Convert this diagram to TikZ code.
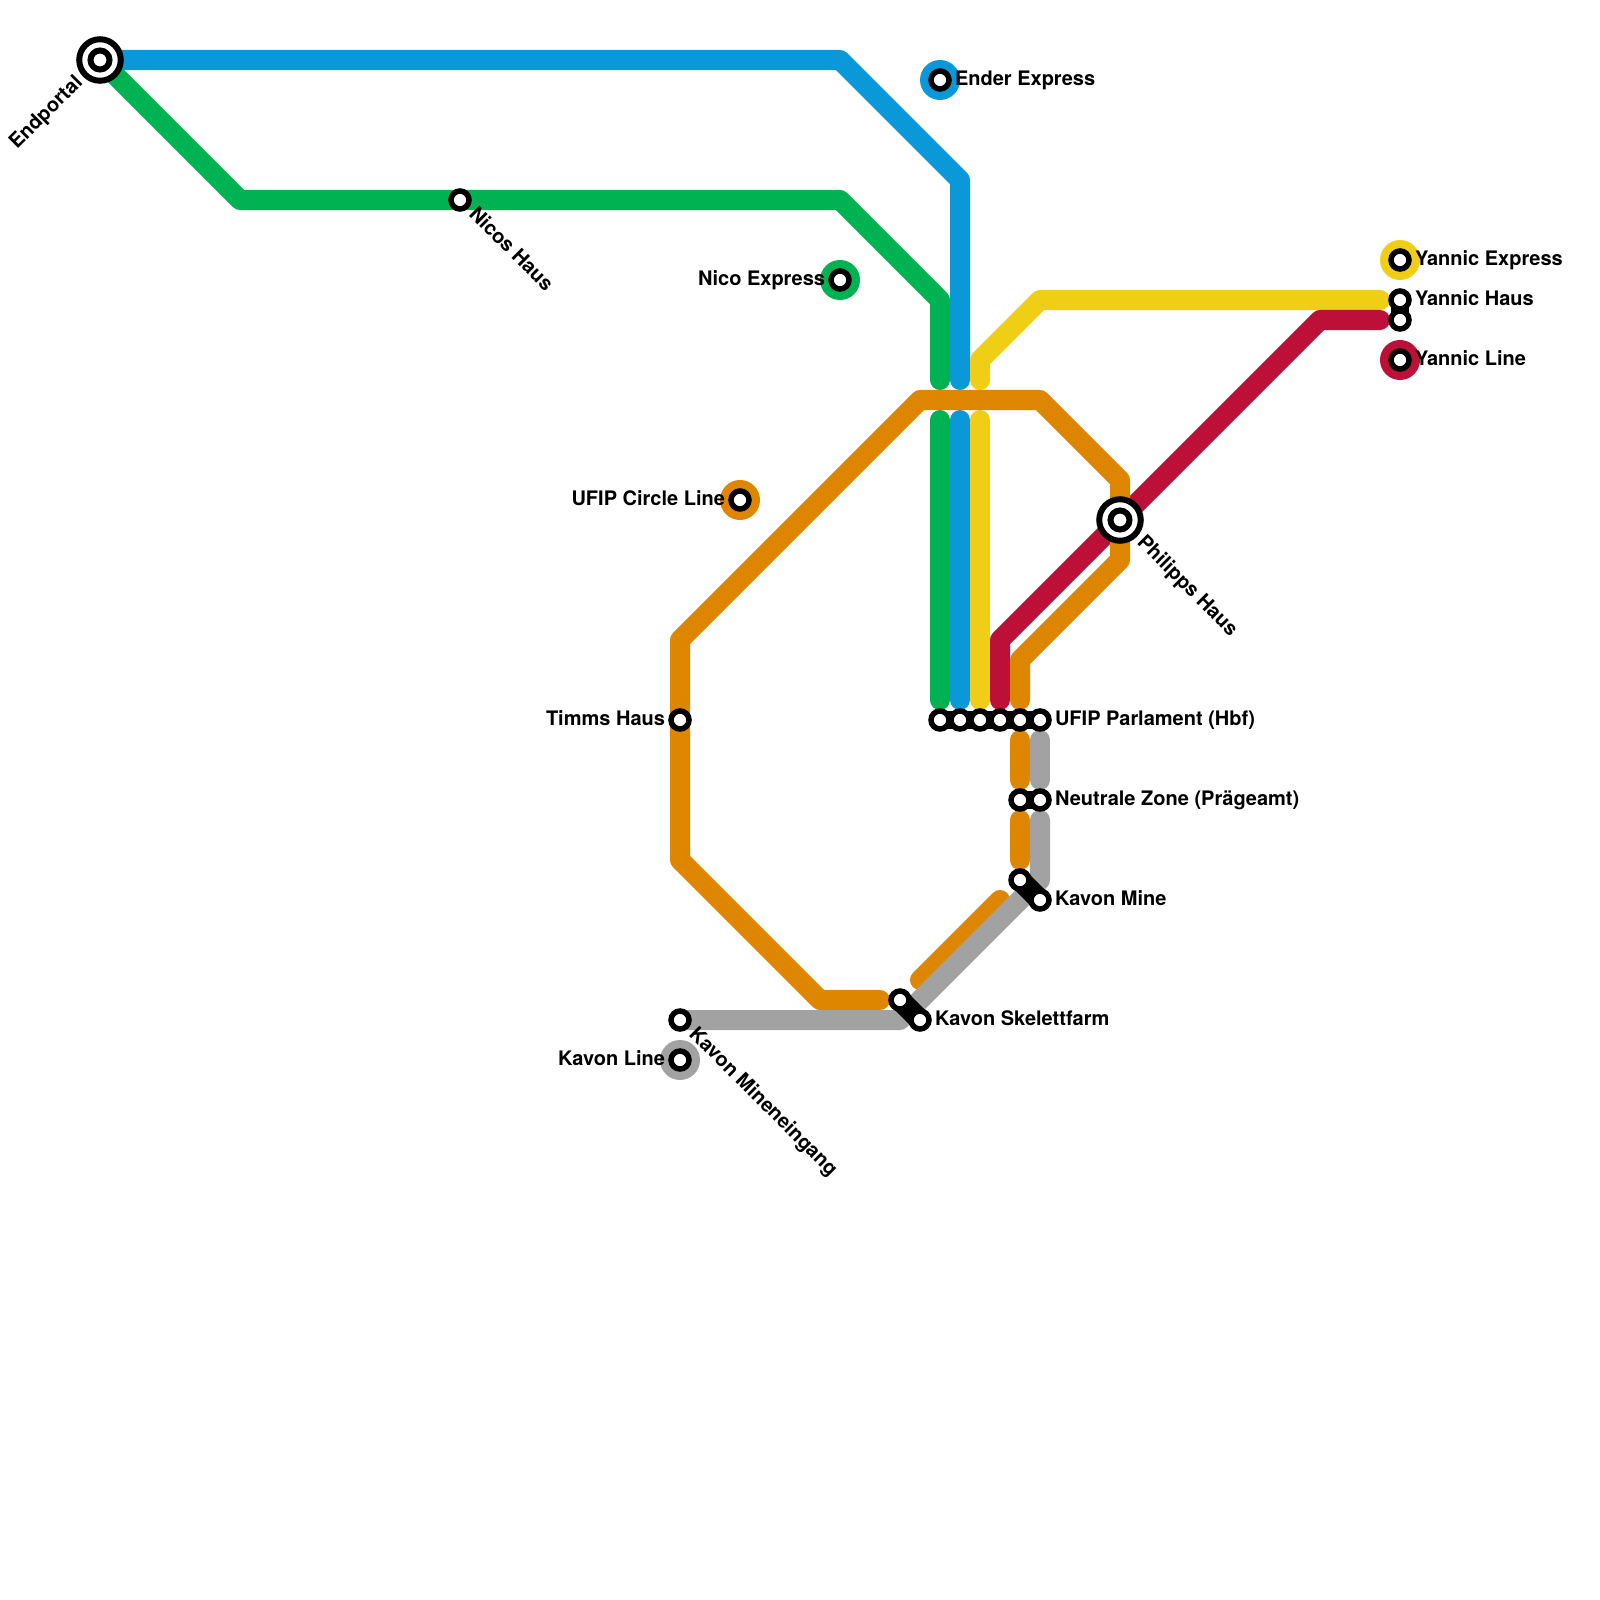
\documentclass[tikz,border=0pt]{standalone}
\usepackage{fontspec}
\setmainfont{TeX Gyre Heros}
\usetikzlibrary{positioning,backgrounds}
\definecolor{metroblue}{RGB}{11,152,216}
\definecolor{metrogreen}{RGB}{0,178,81}
\definecolor{metroorange}{RGB}{222,134,0}
\definecolor{metroyellow}{RGB}{240,206,21}
\definecolor{metrored}{RGB}{189,16,56}
\definecolor{metrogray}{RGB}{162,162,162}

\begin{document}
\begin{tikzpicture}[
    x=0.01cm, y=-0.01cm,
    node distance=0.06cm,
    every node/.style={font=\fontsize{5.69}{7}\selectfont\bfseries, inner sep=0pt, outer sep=0pt},
    tube/.style={line width=0.2cm, line cap=round, line join=round},
    link/.style={line width=0.175cm, draw=black},
    slantlink/.style={line width=0.215cm, draw=black},
    halt/.style={circle, draw=black, fill=white, line width=0.055cm, minimum size=0.18cm},
    terminus/.style={circle, draw=black, fill=white, line width=0.06cm, minimum size=0.415cm},
    core/.style={circle, draw=black, fill=white, line width=0.06cm, minimum size=0.19cm},
    badge/.style={circle, minimum size=0.4cm},
    stationname/.style={text height=0.145cm, text depth=0.045cm},
    slantdown/.style={stationname, rotate=-45, anchor=west, inner xsep=0.075cm},
    slantup/.style={stationname, rotate=45, anchor=east, inner xsep=0.075cm}
]
\useasboundingbox (0,0) rectangle (1600,1600);

% stations
\node[terminus] (endportal) at (100,60) {};
\node[core] (endportalcore) at (endportal) {};
\node[terminus] (philipps) at (1120,520) {};
\node[core] (philippscore) at (philipps) {};
\node[halt] (nicos) at (460,200) {};
\node[halt] (timms) at (680,720) {};
\node[halt] (mineneingang) at (680,1020) {};
\node[halt] (parlament1) at (940,720) {};
\node[halt] (parlament2) at (960,720) {};
\node[halt] (parlament3) at (980,720) {};
\node[halt] (parlament4) at (1000,720) {};
\node[halt] (parlament5) at (1020,720) {};
\node[halt] (parlament6) at (1040,720) {};
\node[halt] (neutral1) at (1020,800) {};
\node[halt] (neutral2) at (1040,800) {};
\node[halt] (mine1) at (1020,880) {};
\node[halt] (mine2) at (1040,900) {};
\node[halt] (skelett1) at (900,1000) {};
\node[halt] (skelett2) at (920,1020) {};
\node[halt] (yannic1) at (1400,300) {};
\node[halt] (yannic2) at (1400,320) {};
\node[halt] (ender) at (940,80) {};
\node[halt] (nicoexpress) at (840,280) {};
\node[halt] (circleline) at (740,500) {};
\node[halt] (kavonline) at (680,1060) {};
\node[halt] (yannicexpress) at (1400,260) {};
\node[halt] (yannicline) at (1400,360) {};

% bends and line ends
\coordinate (blue1) at (840,60);
\coordinate (blue2) at (960,180);
\coordinate (blue3) at (960,380);
\coordinate (blue4) at (960,420);
\coordinate (blue5) at (960,700);
\coordinate (green1) at (240,200);
\coordinate (green2) at (840,200);
\coordinate (green3) at (940,300);
\coordinate (green4) at (940,380);
\coordinate (green5) at (940,420);
\coordinate (green6) at (940,700);
\coordinate (yellow1) at (1380,300);
\coordinate (yellow2) at (1040,300);
\coordinate (yellow3) at (980,360);
\coordinate (yellow4) at (980,380);
\coordinate (yellow5) at (980,420);
\coordinate (yellow6) at (980,700);
\coordinate (red1) at (1380,320);
\coordinate (red2) at (1320,320);
\coordinate (red3) at (1000,640);
\coordinate (red4) at (1000,700);
\coordinate (orange1) at (1020,700);
\coordinate (orange2) at (1020,660);
\coordinate (orange3) at (1120,560);
\coordinate (orange4) at (1120,480);
\coordinate (orange5) at (1040,400);
\coordinate (orange6) at (920,400);
\coordinate (orange7) at (680,640);
\coordinate (orange8) at (680,860);
\coordinate (orange9) at (820,1000);
\coordinate (orange10) at (880,1000);
\coordinate (orange11) at (920,980);
\coordinate (orange12) at (1000,900);
\coordinate (orange13) at (1020,820);
\coordinate (orange14) at (1020,860);
\coordinate (orange15) at (1020,740);
\coordinate (orange16) at (1020,780);
\coordinate (gray1) at (900,1020);
\coordinate (gray2) at (1040,880);
\coordinate (gray3) at (1040,820);
\coordinate (gray4) at (1040,740);
\coordinate (gray5) at (1040,780);

% lines, interchanges and badges under the stations
\begin{scope}[on background layer]
\draw[tube, draw=metroblue] (endportal.center) -- (blue1) -- (blue2) -- (blue3);
\draw[tube, draw=metroblue] (blue4) -- (blue5);
\draw[tube, draw=metrogreen] (endportal.center) -- (green1) -- (nicos.center) -- (green2) -- (green3) -- (green4);
\draw[tube, draw=metrogreen] (green5) -- (green6);
\draw[tube, draw=metroyellow] (yellow1) -- (yellow2) -- (yellow3) -- (yellow4);
\draw[tube, draw=metroyellow] (yellow5) -- (yellow6);
\draw[tube, draw=metrored] (red1) -- (red2) -- (philipps.center) -- (red3) -- (red4);
\draw[tube, draw=metroorange] (orange1) -- (orange2) -- (orange3) -- (philipps.center) -- (orange4) -- (orange5) -- (orange6) -- (orange7) -- (timms.center) -- (orange8) -- (orange9) -- (orange10);
\draw[tube, draw=metroorange] (orange11) -- (orange12);
\draw[tube, draw=metroorange] (orange13) -- (orange14);
\draw[tube, draw=metroorange] (orange15) -- (orange16);
\draw[tube, draw=metrogray] (mineneingang.center) -- (gray1) -- (gray2) -- (gray3);
\draw[tube, draw=metrogray] (gray4) -- (gray5);
\draw[link] (parlament1.center) -- (parlament6.center);
\draw[link] (neutral1.center) -- (neutral2.center);
\draw[slantlink] (mine1.center) -- (mine2.center);
\draw[slantlink] (skelett1.center) -- (skelett2.center);
\draw[link] (yannic1.center) -- (yannic2.center);
\node[badge, fill=metroblue] (enderbadge) at (ender) {};
\node[badge, fill=metrogreen] (nicobadge) at (nicoexpress) {};
\node[badge, fill=metroorange] (circlebadge) at (circleline) {};
\node[badge, fill=metrogray] (kavonbadge) at (kavonline) {};
\node[badge, fill=metroyellow] (expressbadge) at (yannicexpress) {};
\node[badge, fill=metrored] (redbadge) at (yannicline) {};
\end{scope}

% names
\node[stationname, right=of ender] (enderlabel) {Ender Express};
\node[stationname, left=of nicoexpress] (nicolabel) {Nico Express};
\node[stationname, left=of circleline] (circlelabel) {UFIP Circle Line};
\node[stationname, left=of timms] (timmslabel) {Timms Haus};
\node[stationname, left=of kavonline] (kavonlabel) {Kavon Line};
\node[stationname, right=of yannicexpress] (expresslabel) {Yannic Express};
\node[stationname, right=of yannic1] (hauslabel) {Yannic Haus};
\node[stationname, right=of yannicline] (linelabel) {Yannic Line};
\node[stationname, right=of parlament6] (parlamentlabel) {UFIP Parlament (Hbf)};
\node[stationname, right=of neutral2] (neutrallabel) {Neutrale Zone (Prägeamt)};
\node[stationname, right=of mine2] (minelabel) {Kavon Mine};
\node[stationname, right=of skelett2] (skelettlabel) {Kavon Skelettfarm};
\node[slantup] (endportallabel) at (endportal.south west) {Endportal};
\node[slantdown] (nicoslabel) at (nicos.south east) {Nicos Haus};
\node[slantdown] (philippslabel) at (philipps.south east) {Philipps Haus};
\node[slantdown] (mineneinganglabel) at (mineneingang.south east) {Kavon Mineneingang};

\end{tikzpicture}
\end{document}
